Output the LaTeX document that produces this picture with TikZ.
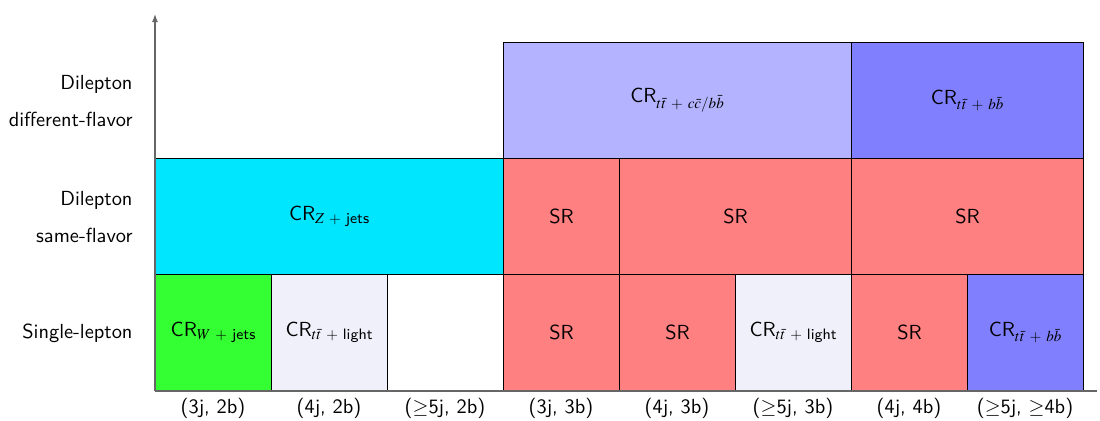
\documentclass[tikz,border=0pt]{standalone}
\usepackage{mathptmx}
\usepackage{fontspec}
\usepackage{amsmath}
\renewcommand{\familydefault}{\sfdefault}
\usetikzlibrary{arrows.meta}
\definecolor{cgreen}{RGB}{51,255,51}
\definecolor{ccyan}{RGB}{0,230,255}
\definecolor{cred}{RGB}{255,128,128}
\definecolor{clight}{RGB}{240,240,250}
\definecolor{clav}{RGB}{179,179,255}
\definecolor{cblue}{RGB}{128,128,255}
\newcommand{\pl}{\hspace{2.4pt}+\hspace{2.4pt}}
\tikzset{
  cell/.style={draw=black, line width=0.6pt, anchor=south west, inner sep=0pt,
    minimum height=2cm, font=\normalsize},
  axis/.style={draw=gray!80!black, line width=0.6pt},
  rowlab/.style={anchor=east, align=right, inner xsep=0pt, font=\normalsize},
  collab/.style={anchor=center, font=\normalsize},
}
\begin{document}
\begin{tikzpicture}
\useasboundingbox (-2.672,-0.517) rectangle (16.293,6.741);
% bottom row
\node[cell, fill=cgreen, minimum width=2cm] (w) at (0,0) {CR$_{W\pl\text{jets}}$};
\node[cell, fill=clight, minimum width=2cm] (l1) at (2,0) {CR$_{t\bar{t}\pl\text{light}}$};
\node[cell, fill=cred, minimum width=2cm] (s1) at (6,0) {SR};
\node[cell, fill=cred, minimum width=2cm] (s2) at (8,0) {SR};
\node[cell, fill=clight, minimum width=2cm] (l2) at (10,0) {CR$_{t\bar{t}\pl\text{light}}$};
\node[cell, fill=cred, minimum width=2cm] (s3) at (12,0) {SR};
\node[cell, fill=cblue, minimum width=2cm] (b1) at (14,0) {CR$_{t\bar{t}\pl b\bar{b}}$};
% middle row
\node[cell, fill=ccyan, minimum width=6cm] (z) at (0,2) {CR$_{Z\pl\text{jets}}$};
\node[cell, fill=cred, minimum width=2cm] (s4) at (6,2) {SR};
\node[cell, fill=cred, minimum width=4cm] (s5) at (8,2) {SR};
\node[cell, fill=cred, minimum width=4cm] (s6) at (12,2) {SR};
% top row
\node[cell, fill=clav, minimum width=6cm] (cc) at (6,4) {CR$_{t\bar{t}\pl c\bar{c}/b\bar{b}}$};
\node[cell, fill=cblue, minimum width=4cm] (b2) at (12,4) {CR$_{t\bar{t}\pl b\bar{b}}$};
% axes
\coordinate (o) at (0,0);
\coordinate (ytop) at (0,6.5);
\coordinate (xend) at (16.24,0);
\draw[axis, -{Latex[length=4pt,width=3pt]}] (o) -- (ytop);
\draw[axis] (o) -- (xend);
% row labels
\node[rowlab] (r1) at (-0.38,1) {Single-lepton};
\node[rowlab] (r2) at (-0.38,3) {Dilepton\\[6pt]same-flavor};
\node[rowlab] (r3) at (-0.38,5) {Dilepton\\[6pt]different-flavor};
% column labels
\node[collab] (c1) at (1,-0.3) {(3j, 2b)};
\node[collab] (c2) at (3,-0.3) {(4j, 2b)};
\node[collab] (c3) at (5,-0.3) {($\geq$5j, 2b)};
\node[collab] (c4) at (7,-0.3) {(3j, 3b)};
\node[collab] (c5) at (9,-0.3) {(4j, 3b)};
\node[collab] (c6) at (11,-0.3) {($\geq$5j, 3b)};
\node[collab] (c7) at (13,-0.3) {(4j, 4b)};
\node[collab] (c8) at (15,-0.3) {($\geq$5j, $\geq$4b)};
\end{tikzpicture}
\end{document}
